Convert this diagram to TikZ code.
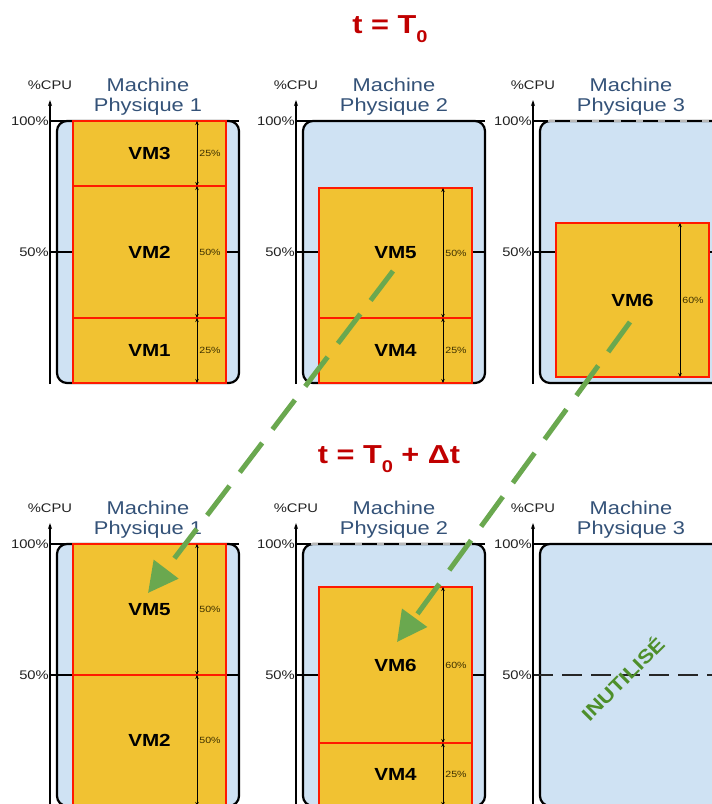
\documentclass[tikz,border=0pt]{standalone}
\usepackage{fontspec}
\setmainfont[FakeStretch=1.18]{Liberation Sans}
\usetikzlibrary{arrows.meta}
\definecolor{boxfill}{HTML}{CFE2F3}
\definecolor{vmfill}{HTML}{F1C232}
\definecolor{vmred}{HTML}{FF1A00}
\definecolor{titlered}{HTML}{C00000}
\definecolor{machblue}{HTML}{345278}
\definecolor{arrgreen}{HTML}{6AA84F}
\definecolor{txtgreen}{HTML}{4E8F2A}
\definecolor{pctbrown}{HTML}{3D3000}
\definecolor{ticktxt}{HTML}{222222}

\newcommand\machine[6]{% name, left, top, number, top-line style, mid-line style
  \pgfmathsetmacro\mcAx{#2-7}
  \pgfmathsetmacro\mcBot{#3+263}
  \pgfmathsetmacro\mcMid{#3+131}
  \pgfmathsetmacro\mcRgt{#2+182}
  \pgfmathsetmacro\mcCx{#2+91}
  \pgfmathsetmacro\mcAt{#3-21}
  \pgfmathsetmacro\mcLa{#3-36}
  \pgfmathsetmacro\mcLb{#3-14}
  \node[machbox] (#1) at (#2,#3) {};
  \coordinate (#1-m0) at (\mcAx,\mcMid);
  \coordinate (#1-m1) at (\mcRgt,\mcMid);
  \coordinate (#1-t0) at (\mcAx,#3);
  \coordinate (#1-t1) at (\mcRgt,#3);
  \draw[#6] (#1-m0) -- (#1-m1);
  \draw[#5] (#1-t0) -- (#1-t1);
  \coordinate (#1-ab) at (\mcAx,\mcBot);
  \coordinate (#1-at) at (\mcAx,\mcAt);
  \draw[axisline] (#1-ab) -- (#1-at);
  \node[ticklbl, anchor=east] (#1-l100) at ([xshift=-1pt]#1-t0) {100\%};
  \node[ticklbl, anchor=east] (#1-l50) at ([xshift=-1pt]#1-m0) {50\%};
  \node[ticklbl] (#1-cpu) at (\mcAx,\mcLa) {\%CPU};
  \node[machlbl] (#1-n1) at (\mcCx,\mcLa) {Machine};
  \node[machlbl] (#1-n2) at (\mcCx,\mcLb) {Physique #4};
}
\newcommand\vmblock[6]{% name, left, top, bottom, label, pct
  \node[vmbox, minimum height={#4-#3}] (#1) at (#2,#3) {#5};
  \draw[dimarrow] ([xshift=124pt]#1.north west) -- ([xshift=124pt]#1.south west)
     node[midway, pctlbl] (#1-p) {#6};
}

\begin{document}
\begin{tikzpicture}[x=1pt,y=-1pt,
  machbox/.style={draw=black, line width=2.2pt, fill=boxfill, rounded corners=10pt,
    minimum width=182pt, minimum height=262pt, anchor=north west, inner sep=0pt, outer sep=0pt},
  vmbox/.style={draw=vmred, line width=1.8pt, fill=vmfill, minimum width=153pt,
    anchor=north west, inner sep=0pt, outer sep=0pt, font=\fontsize{17.5}{17.5}\selectfont\bfseries},
  dimarrow/.style={line width=0.8pt, {Stealth[length=4pt,width=3.5pt]}-{Stealth[length=4pt,width=3.5pt]}},
  pctlbl/.style={anchor=west, inner sep=1pt, xshift=1pt, text=pctbrown, font=\fontsize{9}{9}\selectfont},
  ticklbl/.style={inner sep=0pt, text=ticktxt, font=\fontsize{12.5}{13}\selectfont},
  machlbl/.style={inner sep=0pt, text=machblue, font=\fontsize{18.5}{19}\selectfont},
  axisline/.style={line width=1.1pt, -{Stealth[length=6pt,width=4pt]}},
  topsolid/.style={line width=2.2pt, black},
  topdashed/.style={line width=2.2pt, black, dash pattern=on 15pt off 7pt,
    preaction={draw=gray!55, solid, line width=2.2pt}},
  midsolid/.style={line width=2pt, black},
  middashed/.style={line width=2.4pt, black!85, dash pattern=on 20pt off 9pt},
  titlelbl/.style={inner sep=0pt, text=titlered, font=\fontsize{26}{28}\selectfont\bfseries},
  migr/.style={draw=arrgreen, line width=5pt, dash pattern=on 37pt off 17pt,
    -{Triangle[length=30pt,width=30pt]}},
]
\clip (0,0) rectangle (712,804);

% titles
\node[titlelbl] (tit1) at (390,29) {t = T\raisebox{-0.32em}{\fontsize{17}{17}\selectfont 0}};
\node[titlelbl] (tit2) at (389,459) {t = T\raisebox{-0.32em}{\fontsize{17}{17}\selectfont 0} + Δt};

% top row
\machine{A1}{57}{121}{1}{topsolid}{midsolid}
\machine{A2}{303}{121}{2}{topsolid}{midsolid}
\machine{A3}{540}{121}{3}{topdashed}{midsolid}
\vmblock{vmA3}{73}{121}{186}{VM3}{25\%}
\vmblock{vmA2}{73}{186}{318}{VM2}{50\%}
\vmblock{vmA1}{73}{318}{383}{VM1}{25\%}
\vmblock{vmA5}{319}{188}{318}{VM5}{50\%}
\vmblock{vmA4}{319}{318}{383}{VM4}{25\%}
\vmblock{vmA6}{556}{223}{377}{VM6}{60\%}

% bottom row
\machine{B1}{57}{544}{1}{topsolid}{midsolid}
\machine{B2}{303}{544}{2}{topdashed}{midsolid}
\machine{B3}{540}{544}{3}{topsolid}{middashed}
\vmblock{vmB5}{73}{544}{675}{VM5}{50\%}
\vmblock{vmB2}{73}{675}{806}{VM2}{50\%}
\vmblock{vmB6}{319}{587}{743}{VM6}{60\%}
\vmblock{vmB4}{319}{743}{806}{VM4}{25\%}

\node[text=txtgreen, rotate=45, inner sep=0pt, font=\fontsize{19}{19}\selectfont\bfseries] (unused) at (622,678) {INUTILISÉ};

% migrations
\coordinate (g1s) at (393,271);
\coordinate (g1e) at (148,593);
\coordinate (g2s) at (630,322);
\coordinate (g2e) at (397,642);
\draw[migr] (g1s) -- (g1e);
\draw[migr] (g2s) -- (g2e);
\end{tikzpicture}
\end{document}
